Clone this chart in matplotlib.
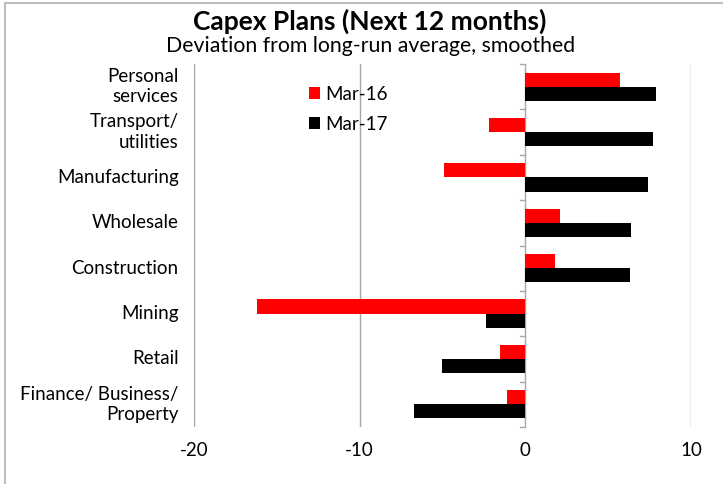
"""Capex plans by industry: deviation from long-run average (horizontal bars)."""

import matplotlib.pyplot as plt
import numpy as np
from matplotlib.lines import Line2D
from matplotlib.transforms import blended_transform_factory

plt.rcParams["font.family"] = ["Lato", "DejaVu Sans"]

# ── data ────────────────────────────────────────────────────
industries = [
    "Personal\nservices",
    "Transport/\nutilities",
    "Manufacturing",
    "Wholesale",
    "Construction",
    "Mining",
    "Retail",
    "Finance/ Business/\nProperty",
]
mar16 = [5.7, -2.2, -4.9, 2.1, 1.8, -16.2, -1.5, -1.1]
mar17 = [7.9, 7.7, 7.4, 6.4, 6.3, -2.4, -5.0, -6.7]
series_names = ["Mar-16", "Mar-17"]
x_ticks = [-20, -10, 0, 10]

RED = "#ff0000"
BLACK = "#000000"
GRID = "#a6a6a6"
FS = 13.5

fig = plt.figure(figsize=(7.23, 4.84), dpi=100)
ax = fig.add_axes([194 / 723, 57 / 484, 497 / 723, 363 / 484])

y = np.arange(len(industries))
bar_h = 0.31
ax.barh(y - bar_h / 2, mar16, height=bar_h, color=RED, label=series_names[0], zorder=3)
ax.barh(y + bar_h / 2, mar17, height=bar_h, color=BLACK, label=series_names[1], zorder=3)

ax.set_xlim(x_ticks[0], x_ticks[-1])
ax.set_ylim(len(industries) - 0.5, -0.5)

for s in ax.spines.values():
    s.set_visible(False)

# vertical gridlines (the zero line doubles as the category axis)
for xv in x_ticks:
    ax.axvline(xv, color=GRID, lw=1.0, zorder=1)

# short category ticks on the zero line
for b in np.arange(len(industries) + 1) - 0.5:
    ax.plot([-0.3, 0], [b, b], color=GRID, lw=1.0, zorder=1, clip_on=False)

ax.set_xticks(x_ticks)
ax.set_xticklabels([str(v) for v in x_ticks], fontsize=FS)
ax.tick_params(axis="x", length=0, pad=11)
ax.set_yticks([])

# category labels, right-aligned left of the plot
trans = blended_transform_factory(ax.transAxes, ax.transData)
for yi, name in zip(y, industries):
    ax.text(-0.031, yi, name, transform=trans, ha="right", va="center",
            fontsize=FS, linespacing=1.25)

fig.text(0.512, 0.956, "Capex Plans (Next 12 months)", ha="center", va="center",
         fontsize=19, fontweight="bold")
fig.text(0.512, 0.905, "Deviation from long-run average, smoothed", ha="center",
         va="center", fontsize=15.3)

ax.legend(loc="upper left", bbox_to_anchor=(309 / 723, 1 - 86 / 484),
          bbox_transform=fig.transFigure, frameon=False, fontsize=FS,
          handlelength=0.6, handleheight=0.6, handletextpad=0.25,
          labelspacing=0.68, borderpad=0, borderaxespad=0)

# thin frame on the left and top edges
fig.add_artist(Line2D([5 / 723, 5 / 723], [0, 1 - 3 / 484], color="#bfbfbf", lw=1.5,
                      transform=fig.transFigure))
fig.add_artist(Line2D([5 / 723, 1], [1 - 3 / 484, 1 - 3 / 484], color="#bfbfbf", lw=1.5,
                      transform=fig.transFigure))

fig.savefig("out.png", dpi=100)
